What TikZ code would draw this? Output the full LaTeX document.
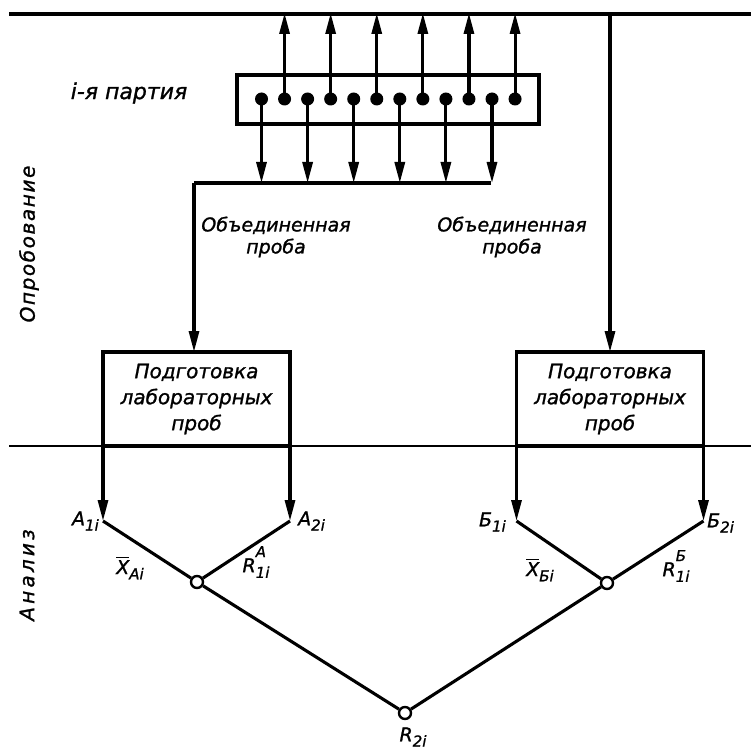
\documentclass[tikz,border=0pt]{standalone}
\usepackage{amsmath}
\usepackage{fontspec}
\setmainfont{DejaVu Sans}[ItalicFeatures={FakeBold=1.2}]
\usetikzlibrary{arrows.meta}
\newcommand{\lsub}[1]{\raisebox{-0.5ex}{\fontsize{15}{15}\selectfont #1}}
\newcommand{\lsupsub}[2]{\rlap{\raisebox{1.45ex}{\fontsize{15}{15}\selectfont #1}}\raisebox{-0.55ex}{\fontsize{15}{15}\selectfont #2}}
\newcommand{\xbar}{$\overline{\text{X}}$}
\begin{document}
\begin{tikzpicture}[x=1pt,y=-1pt,
  mainline/.style={line width=3.1pt},
  sepline/.style={line width=2.6pt},
  arr/.style={mainline,-{Triangle[length=21pt,width=10pt]}},
  dot/.style={circle,fill=black,inner sep=0pt,minimum size=13pt},
  junction/.style={circle,draw=black,fill=white,line width=2.4pt,inner sep=0pt,minimum size=12pt},
  txt/.style={font=\itshape\fontsize{20}{26}\selectfont,align=center,inner sep=0pt},
  lbl/.style={font=\itshape\fontsize{19}{22}\selectfont,inner sep=0pt},
  labbox/.style={draw=black,mainline,outer sep=0pt,minimum width=187pt,minimum height=94pt,txt}
]
\useasboundingbox (0,0) rectangle (751,751);

% separator lines
\coordinate (topL) at (9,14);
\coordinate (topR) at (751,14);
\coordinate (midL) at (9,446);
\coordinate (midR) at (751,446);
\draw[mainline] (topL) -- (topR);
\draw[sepline] (midL) -- (midR);

% side titles
\node[txt,rotate=90,font=\itshape\fontsize{20}{24}\selectfont\addfontfeatures{LetterSpace=8}] (sampling) at (29,244) {Опробование};
\node[txt,rotate=90,font=\itshape\fontsize{20}{24}\selectfont\addfontfeatures{LetterSpace=16}] (analysis) at (27,575) {Анализ};

% batch
\node[txt,font=\itshape\fontsize{22}{26}\selectfont] (batchlbl) at (129,93) {i-я партия};
\node[draw=black,mainline,outer sep=0pt,minimum width=302pt,minimum height=49pt] (batch) at (388,99.5) {};
\foreach \i in {1,...,12}{
  \node[dot] (d\i) at ({261.5+23.05*(\i-1)},99) {};
}
\foreach \i in {2,4,...,12}{
  \coordinate (u\i) at (d\i |- topL);
  \draw[arr] (d\i.center) -- ([yshift=1pt]u\i);
}
\coordinate (cl) at (194,183);
\coordinate (cr) at (491,183);
\foreach \i in {1,3,...,11}{
  \coordinate (c\i) at (d\i |- cl);
  \draw[arr] (d\i.center) -- (c\i);
}

% lab boxes
\node[labbox] (boxA) at (196.5,399) {Подготовка\\лабораторных\\проб};
\node[labbox] (boxB) at (610,399) {Подготовка\\лабораторных\\проб};

% composite samples
\draw[mainline] (cr) -- (cl);
\draw[arr] (cl) -- (boxA.north -| cl);
\coordinate (rtop) at (610,14);
\draw[arr] (rtop) -- (boxB.north);
\node[txt,font=\itshape\fontsize{19}{22}\selectfont] (compA) at (276,237) {Объединенная\\проба};
\node[txt,font=\itshape\fontsize{19}{22}\selectfont] (compB) at (512,237) {Объединенная\\проба};

% analysis tree
\coordinate (A1) at (103,521);
\coordinate (A2) at (290,521);
\coordinate (B1) at (516.5,521);
\coordinate (B2) at (703.5,521);
\node[junction] (jA) at (197,582) {};
\node[junction] (jB) at (607,583) {};
\node[junction] (jR) at (405,713) {};
\draw[arr] (boxA.south west) -- (A1);
\draw[arr] (boxA.south east) -- (A2);
\draw[arr] (boxB.south west) -- (B1);
\draw[arr] (boxB.south east) -- (B2);
\draw[mainline,line join=round] (A1) -- (jA) -- (A2);
\draw[mainline,line join=round] (B1) -- (jB) -- (B2);
\draw[mainline] (jA) -- (jR) -- (jB);

% labels
\node[lbl,anchor=east] (lA1) at (99,521) {A\lsub{1i}};
\node[lbl,anchor=west] (lA2) at (298,521) {A\lsub{2i}};
\node[lbl,anchor=east] (lB1) at (506,522) {Б\lsub{1i}};
\node[lbl,anchor=west] (lB2) at (707,523) {Б\lsub{2i}};
\node[lbl] (xA) at (130,568) {\xbar\lsub{Ai}};
\node[lbl] (rA) at (256,562) {R\lsupsub{A}{1i}};
\node[lbl] (xB) at (540,570) {\xbar\lsub{Бi}};
\node[lbl] (rB) at (676,566) {R\lsupsub{Б}{1i}};
\node[lbl] (r2) at (413,737) {R\lsub{2i}};
\end{tikzpicture}
\end{document}
